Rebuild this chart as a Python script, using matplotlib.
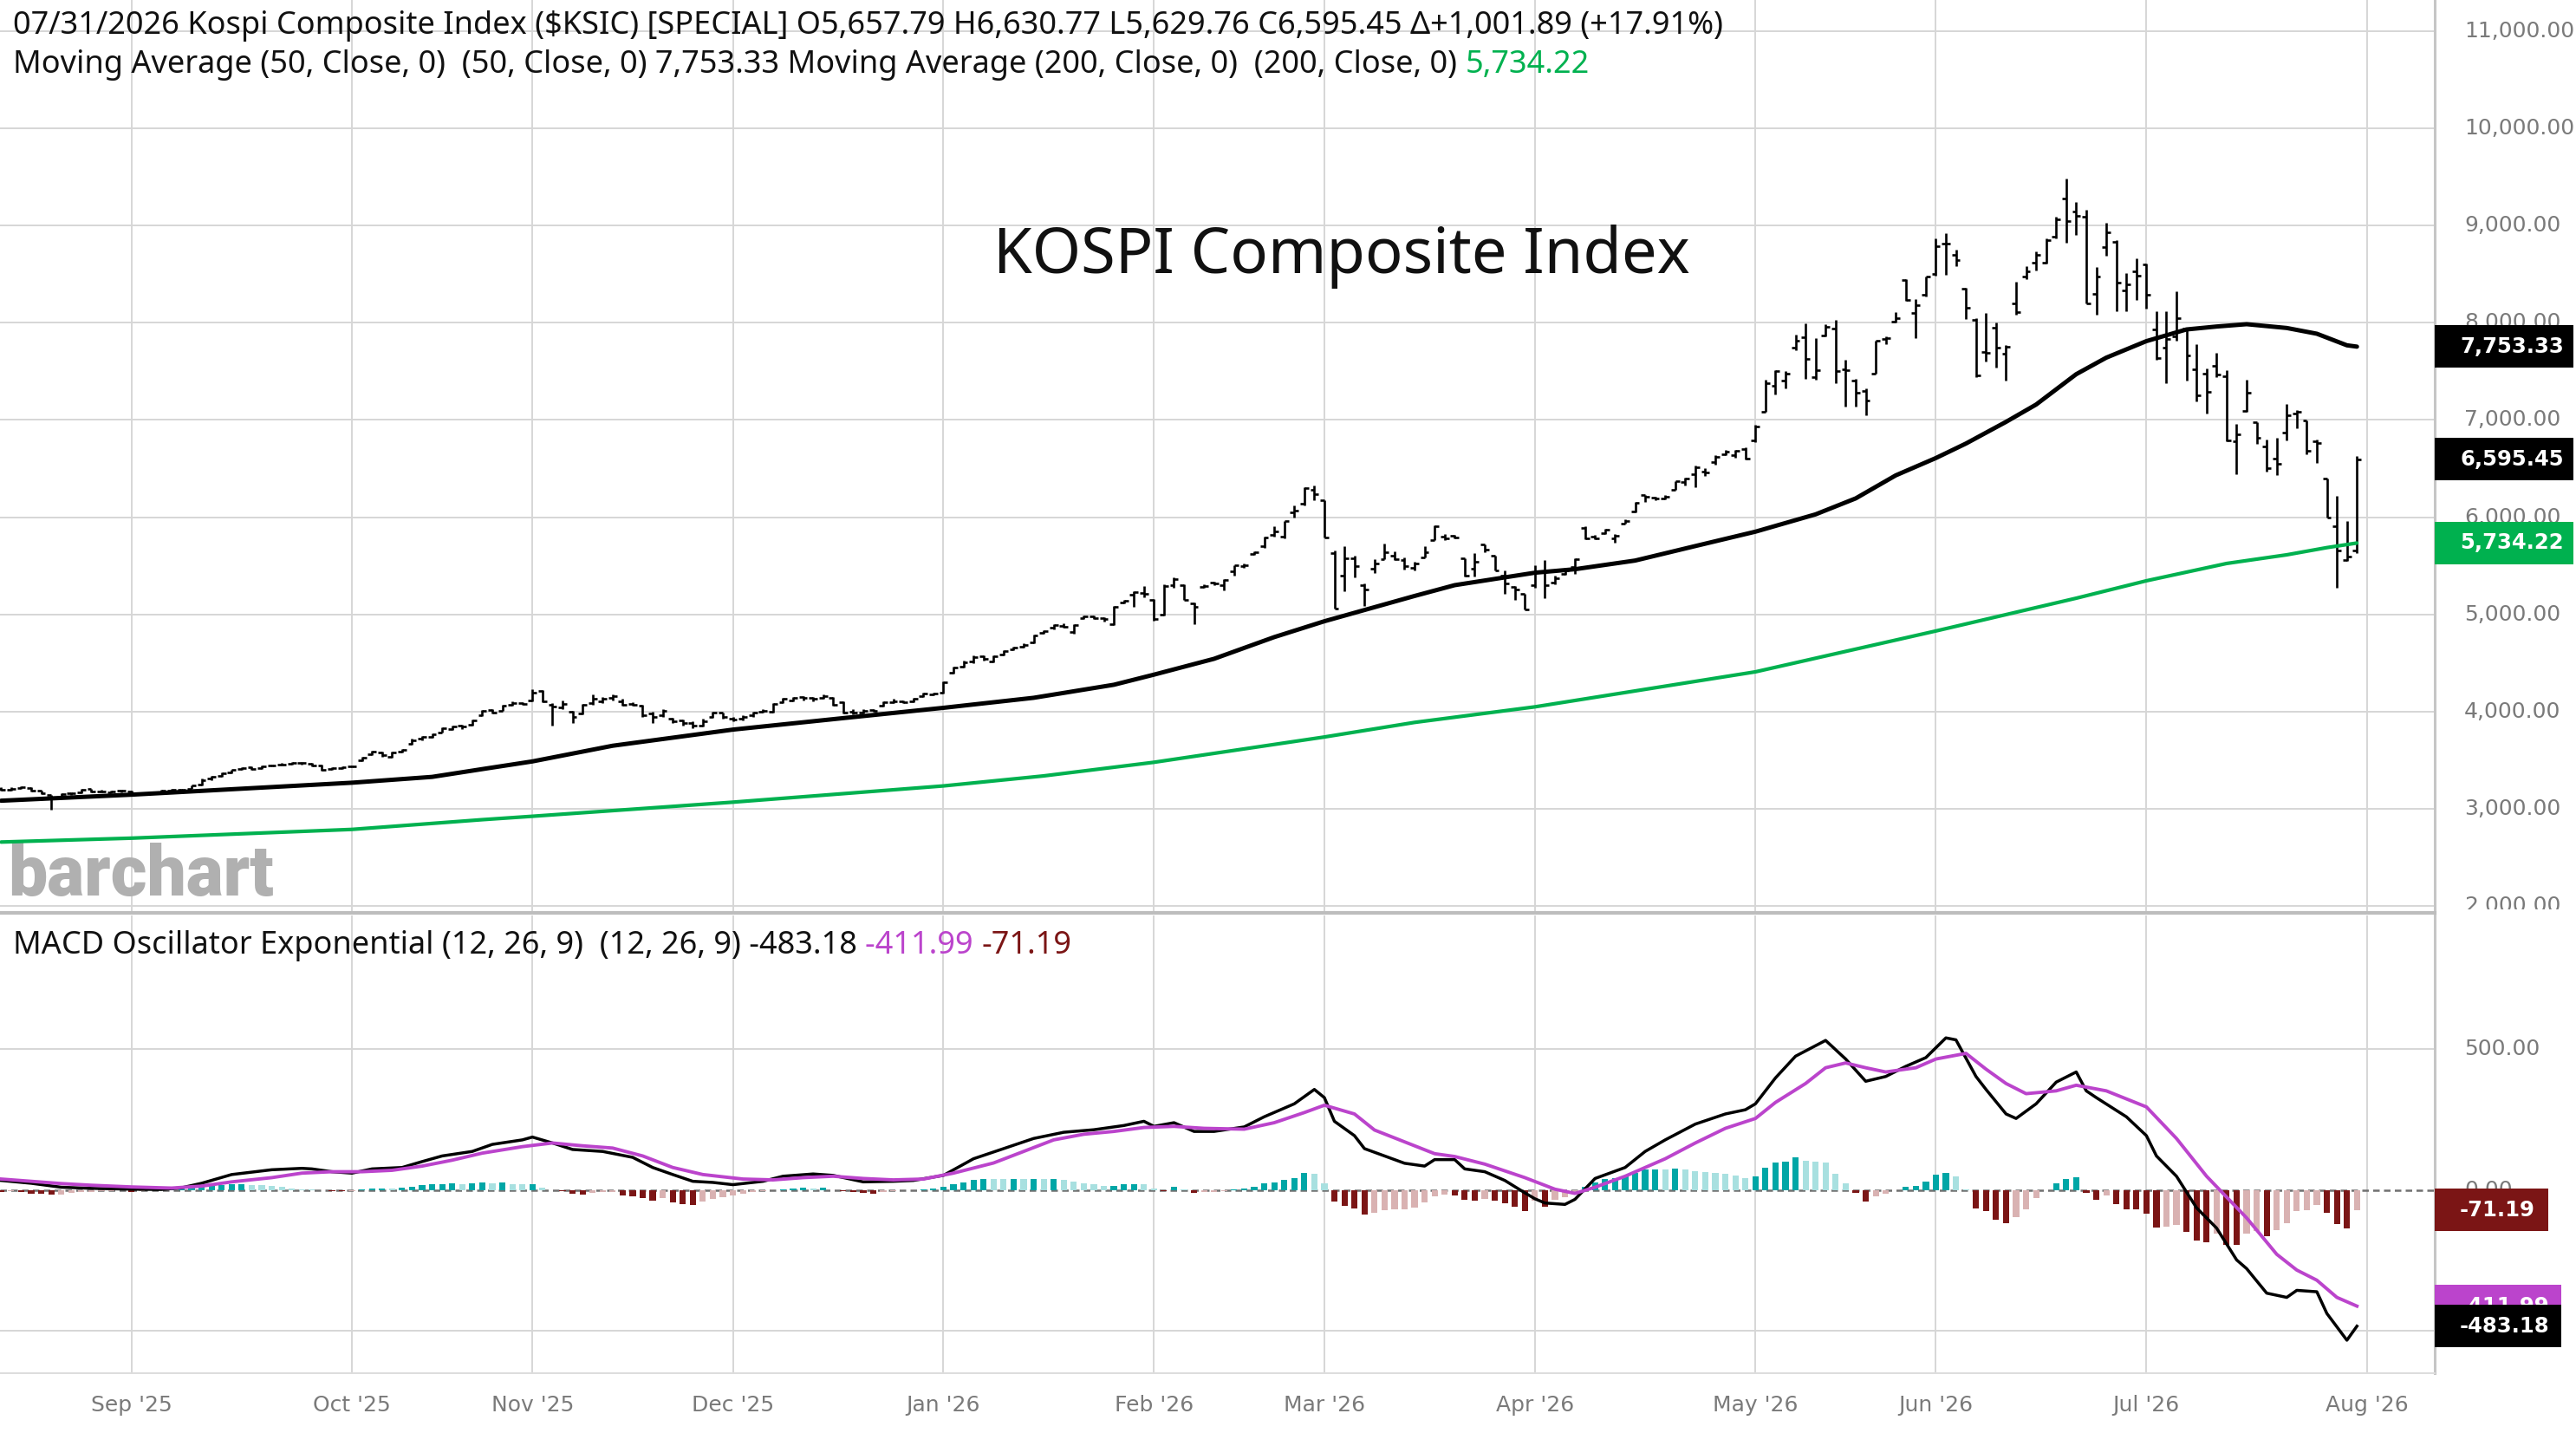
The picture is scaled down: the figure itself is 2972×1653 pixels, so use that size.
import numpy as np
import matplotlib
matplotlib.use("Agg")
import matplotlib.pyplot as plt
import matplotlib.transforms as mtransforms
from matplotlib.patches import Rectangle

# ---------------- data ----------------
opens = [
    3210, 3195, 3215, 3215, 3185, 3140, 3120, 3160, 3170, 3205,
    3180, 3175, 3185, 3180, 3165, 3160, 3175, 3190, 3195, 3210,
    3250, 3310, 3340, 3380, 3410, 3425, 3420, 3445, 3455, 3465,
    3475, 3465, 3450, 3410, 3420, 3435, 3500, 3560, 3580, 3540,
    3590, 3670, 3720, 3740, 3790, 3820, 3860, 3870, 3960, 4020,
    4010, 4070, 4090, 4120, 4210, 4070, 4040, 4000, 3980, 4090,
    4110, 4140, 4110, 4080, 4060, 3980, 3960, 3930, 3910, 3880,
    3860, 3950, 3990, 3930, 3930, 3960, 4000, 4000, 4100, 4120,
    4150, 4140, 4140, 4140, 4100, 4000, 3990, 4020, 4060, 4100,
    4110, 4110, 4160, 4180, 4200, 4400, 4460, 4520, 4570, 4520,
    4590, 4640, 4670, 4710, 4810, 4860, 4880, 4820, 4960, 4980,
    4960, 4900, 5120, 5200, 5220, 5150, 5000, 5300, 5300, 5110,
    5280, 5330, 5300, 5440, 5500, 5620, 5700, 5820, 5800, 6050,
    6140, 6280, 6170, 5630, 5400, 5580, 5300, 5470, 5570, 5600,
    5560, 5480, 5590, 5760, 5800, 5810, 5580, 5470, 5720, 5600,
    5400, 5280, 5210, 5300, 5440, 5330, 5420, 5490, 5890, 5800,
    5840, 5780, 5930, 6060, 6230, 6200, 6190, 6280, 6360, 6440,
    6470, 6570, 6650, 6640, 6700, 6790, 7080, 7350, 7400, 7740,
    7850, 7440, 7870, 7940, 7520, 7400, 7300, 7480, 7830, 8010,
    8440, 8100, 8290, 8500, 8810, 8700, 8350, 8030, 7700, 7950,
    7680, 8200, 8470, 8620, 8620, 8880, 9280, 9140, 9090, 8300,
    8780, 8830, 8330, 8530, 8600, 7930, 7740, 7860, 7940, 7520,
    7480, 7560, 7450, 6780, 7090, 6980, 6730, 6600, 6870, 7070,
    6990, 6780, 6400, 5910, 5560, 5657.79,
]
highs = [
    3225, 3220, 3230, 3220, 3190, 3145, 3160, 3175, 3210, 3210,
    3195, 3190, 3200, 3185, 3175, 3180, 3195, 3205, 3210, 3245,
    3310, 3340, 3375, 3405, 3430, 3435, 3445, 3460, 3470, 3480,
    3485, 3470, 3455, 3430, 3440, 3450, 3540, 3600, 3590, 3590,
    3620, 3720, 3750, 3780, 3840, 3860, 3870, 3920, 4020, 4030,
    4070, 4110, 4100, 4230, 4220, 4090, 4120, 4010, 4080, 4180,
    4150, 4180, 4130, 4100, 4070, 4000, 4030, 3940, 3920, 3900,
    3930, 4000, 3995, 3950, 3960, 4000, 4030, 4090, 4140, 4150,
    4160, 4150, 4180, 4150, 4110, 4030, 4030, 4030, 4110, 4130,
    4120, 4140, 4200, 4200, 4310, 4460, 4530, 4580, 4580, 4580,
    4630, 4670, 4700, 4790, 4840, 4900, 4910, 4900, 4990, 4990,
    4970, 5090, 5150, 5240, 5290, 5160, 5310, 5380, 5310, 5120,
    5310, 5340, 5360, 5510, 5520, 5650, 5800, 5910, 5960, 6120,
    6310, 6330, 6170, 5660, 5700, 5600, 5320, 5570, 5730, 5650,
    5590, 5540, 5700, 5920, 5830, 5820, 5580, 5630, 5720, 5600,
    5450, 5290, 5210, 5510, 5560, 5400, 5480, 5580, 5910, 5820,
    5880, 5830, 5980, 6160, 6230, 6210, 6230, 6370, 6410, 6530,
    6500, 6640, 6690, 6690, 6720, 6950, 7410, 7510, 7500, 7880,
    7990, 7840, 7980, 8030, 7620, 7420, 7320, 7810, 7860, 8110,
    8450, 8240, 8470, 8870, 8920, 8750, 8360, 8050, 8100, 8000,
    7770, 8420, 8580, 8730, 8870, 9090, 9480, 9240, 9160, 8570,
    9030, 8850, 8510, 8660, 8610, 8120, 8120, 8320, 7950, 7780,
    7530, 7690, 7510, 6960, 7410, 6980, 6800, 6820, 7160, 7100,
    6990, 6800, 6400, 6220, 5960, 6630.77,
]
lows = [
    3190, 3190, 3205, 3180, 3150, 2990, 3110, 3145, 3165, 3175,
    3170, 3165, 3175, 3150, 3150, 3155, 3170, 3185, 3190, 3205,
    3245, 3300, 3335, 3370, 3400, 3400, 3415, 3435, 3445, 3455,
    3460, 3440, 3390, 3405, 3415, 3425, 3495, 3555, 3540, 3530,
    3580, 3660, 3710, 3730, 3785, 3810, 3820, 3860, 3955, 3980,
    4005, 4060, 4070, 4110, 4100, 3860, 4030, 3880, 3970, 4070,
    4090, 4120, 4060, 4060, 3950, 3880, 3950, 3880, 3860, 3830,
    3850, 3940, 3930, 3900, 3910, 3950, 3990, 3990, 4090, 4110,
    4120, 4110, 4130, 4060, 3980, 3970, 3980, 4000, 4050, 4090,
    4085, 4100, 4150, 4170, 4190, 4390, 4450, 4500, 4530, 4510,
    4580, 4630, 4660, 4700, 4800, 4850, 4860, 4800, 4950, 4950,
    4930, 4890, 5110, 5080, 5180, 4940, 4990, 5270, 5150, 4900,
    5270, 5300, 5250, 5400, 5480, 5610, 5680, 5800, 5780, 6000,
    6120, 6170, 5790, 5060, 5240, 5380, 5090, 5430, 5570, 5560,
    5460, 5450, 5590, 5760, 5760, 5780, 5390, 5390, 5640, 5450,
    5210, 5150, 5050, 5270, 5170, 5310, 5410, 5420, 5770, 5770,
    5830, 5740, 5930, 6050, 6160, 6170, 6180, 6280, 6330, 6310,
    6420, 6540, 6640, 6610, 6590, 6770, 7080, 7260, 7320, 7720,
    7420, 7410, 7860, 7380, 7140, 7140, 7050, 7480, 7780, 8000,
    8220, 7840, 8270, 8480, 8490, 8580, 8040, 7440, 7600, 7540,
    7400, 8080, 8450, 8540, 8610, 8870, 8820, 8900, 8200, 8080,
    8690, 8120, 8120, 8230, 8140, 7620, 7380, 7810, 7400, 7190,
    7070, 7440, 6780, 6440, 7080, 6750, 6470, 6430, 6790, 6910,
    6650, 6560, 6000, 5270, 5550, 5629.76,
]
closes = [
    3200, 3210, 3220, 3190, 3160, 3110, 3150, 3160, 3200, 3180,
    3180, 3180, 3190, 3160, 3160, 3170, 3190, 3200, 3200, 3240,
    3300, 3330, 3370, 3400, 3420, 3410, 3440, 3450, 3460, 3470,
    3470, 3450, 3400, 3420, 3430, 3440, 3530, 3590, 3550, 3580,
    3610, 3710, 3740, 3770, 3830, 3850, 3850, 3910, 4010, 3990,
    4060, 4090, 4080, 4200, 4110, 4050, 4080, 3950, 4070, 4130,
    4130, 4160, 4070, 4070, 3960, 3950, 4010, 3900, 3880, 3860,
    3900, 3990, 3950, 3920, 3950, 3990, 4010, 4080, 4130, 4140,
    4140, 4130, 4160, 4070, 3990, 3990, 4010, 4010, 4100, 4110,
    4100, 4130, 4190, 4190, 4300, 4450, 4510, 4560, 4540, 4570,
    4620, 4660, 4690, 4780, 4830, 4890, 4870, 4890, 4980, 4960,
    4950, 5080, 5140, 5230, 5210, 4950, 5290, 5360, 5150, 5080,
    5290, 5320, 5350, 5510, 5510, 5640, 5790, 5850, 5960, 6070,
    6300, 6240, 5790, 5060, 5580, 5500, 5260, 5520, 5640, 5570,
    5500, 5520, 5640, 5910, 5780, 5790, 5400, 5540, 5670, 5450,
    5320, 5260, 5050, 5440, 5300, 5370, 5450, 5570, 5780, 5780,
    5870, 5810, 5960, 6150, 6210, 6190, 6210, 6370, 6400, 6510,
    6460, 6620, 6670, 6680, 6600, 6930, 7380, 7500, 7480, 7810,
    7630, 7510, 7960, 7500, 7510, 7280, 7200, 7810, 7840, 8050,
    8230, 8180, 8470, 8790, 8810, 8640, 8150, 7460, 7690, 7740,
    7750, 8110, 8530, 8700, 8850, 9060, 9040, 9100, 8200, 8470,
    8930, 8410, 8390, 8480, 8290, 7640, 7830, 8050, 7660, 7250,
    7290, 7470, 6790, 6850, 7280, 6820, 6500, 6550, 7050, 7080,
    6680, 6760, 6000, 5660, 5593.56, 6595.45,
]

# first trading day of each month, as bar number
month_idx = [13, 35, 53, 73, 94, 115, 132, 153, 175, 193, 214, 236]
month_lbl = ["Sep '25", "Oct '25", "Nov '25", "Dec '25", "Jan '26", "Feb '26",
             "Mar '26", "Apr '26", "May '26", "Jun '26", "Jul '26", "Aug '26"]

ma50_idx = [0, 13, 35, 43, 48, 53, 61, 73, 84, 94, 103, 111, 115, 121, 127, 132,
            141, 145, 153, 157, 163, 169, 175, 181, 185, 189, 193, 196, 200, 203,
            207, 210, 214, 218, 221, 224, 228, 231, 234, 235]
ma50_val = [3085, 3147, 3270, 3330, 3410, 3489, 3650, 3816, 3934, 4040, 4143, 4277,
            4381, 4544, 4767, 4930, 5190, 5301, 5429, 5465, 5554, 5703, 5851, 6029,
            6193, 6430, 6608, 6757, 6980, 7158, 7470, 7640, 7810, 7930, 7960, 7984,
            7945, 7886, 7767, 7753.33]

ma200_idx = [0, 13, 35, 48, 53, 73, 94, 104, 115, 132, 141, 153, 175, 193, 207,
             214, 222, 228, 232, 235]
ma200_val = [2660, 2700, 2790, 2890, 2925, 3070, 3237, 3340, 3480, 3740, 3890, 4050,
             4410, 4830, 5167, 5346, 5524, 5613, 5687, 5734.22]

macd_idx = [0, 3, 6, 9, 13, 16, 18, 20, 23, 27, 30, 31, 33, 35, 37, 40, 42, 44, 47,
            49, 52, 53, 55, 57, 60, 63, 65, 67, 69, 71, 73, 76, 78, 81, 83, 86, 89,
            91, 94, 97, 100, 103, 106, 109, 112, 114, 115, 117, 119, 121, 124, 126,
            129, 131, 132, 133, 135, 136, 138, 140, 142, 143, 145, 146, 148, 150,
            152, 153, 154, 156, 157, 159, 162, 164, 166, 169, 172, 174, 175, 177,
            179, 182, 184, 186, 188, 190, 192, 194, 195, 197, 198, 200, 201, 203,
            205, 207, 208, 209, 212, 214, 215, 217, 219, 221, 223, 224, 226, 228,
            229, 231, 232, 234, 235]
macd_val = [34, 24, 10, 6, 3, 2, 8, 24, 55, 72, 77, 75, 65, 60, 75, 80, 101, 121,
            137, 162, 178, 188, 167, 144, 137, 116, 80, 55, 31, 27, 19, 31, 49, 57,
            52, 29, 31, 34, 52, 111, 147, 183, 205, 214, 229, 244, 226, 239, 208,
            208, 224, 260, 306, 357, 328, 244, 193, 147, 121, 95, 85, 108, 108, 75,
            65, 34, -10, -31, -46, -51, -33, 41, 80, 137, 178, 234, 270, 285, 306,
            398, 475, 531, 465, 386, 403, 439, 470, 540, 533, 403, 357, 270, 254,
            306, 383, 419, 352, 328, 260, 193, 121, 49, -63, -135, -248, -279, -366,
            -381, -356, -361, -438, -533, -483.18]

sig_idx = [0, 3, 6, 9, 13, 17, 20, 23, 27, 30, 33, 36, 39, 42, 45, 48, 52, 55, 58,
           61, 64, 67, 70, 74, 77, 80, 83, 86, 89, 92, 95, 99, 102, 105, 108, 111,
           114, 117, 120, 124, 127, 130, 132, 135, 137, 141, 143, 145, 148, 152,
           155, 157, 159, 162, 166, 169, 172, 175, 177, 180, 182, 184, 186, 188,
           191, 193, 196, 198, 200, 202, 205, 207, 210, 214, 217, 220, 224, 227,
           229, 231, 233, 235]
sig_val = [39, 31, 23, 17, 11, 7, 14, 29, 44, 60, 65, 65, 70, 85, 106, 131, 154,
           167, 157, 149, 121, 80, 55, 39, 36, 44, 49, 41, 36, 39, 60, 96, 137, 178,
           198, 208, 222, 226, 219, 216, 239, 275, 301, 270, 213, 157, 129, 119, 92,
           44, 3, -12, 10, 49, 111, 167, 219, 254, 311, 378, 434, 451, 434, 419, 434,
           465, 485, 429, 378, 342, 352, 372, 352, 295, 183, 49, -99, -228, -284,
           -320, -381, -411.99]

hist_vals = [
    -8, -5, -8, -12, -14, -16, -16, -10, -8, -6,
    -4, -3, -2, -6, -3, -2, -1, 2, 4, 8,
    10, 14, 18, 20, 22, 18, 17, 14, 10, 6,
    3, 1, -1, -3, -4, -3, 2, 4, 6, 4,
    8, 12, 17, 20, 21, 24, 20, 24, 26, 24,
    26, 22, 20, 22, 8, -2, -4, -14, -16, -10,
    -8, -6, -18, -22, -30, -38, -30, -45, -50, -52,
    -40, -32, -26, -20, -14, -8, -4, -2, 2, 6,
    8, 6, 8, -2, -4, -6, -10, -12, -6, -4,
    -2, -1, 2, 6, 12, 20, 28, 36, 40, 39,
    38, 40, 38, 40, 38, 40, 36, 30, 24, 20,
    14, 16, 20, 22, 20, 4, -4, 10, 2, -10,
    -8, -6, -3, 2, 4, 12, 25, 28, 35, 42,
    60, 58, 25, -42, -55, -65, -88, -80, -72, -68,
    -68, -62, -45, -22, -15, -20, -35, -38, -32, -38,
    -48, -58, -75, -38, -60, -35, -25, -15, 12, 26,
    39, 41, 49, 62, 72, 73, 72, 75, 73, 67,
    65, 60, 58, 52, 42, 49, 78, 98, 101, 116,
    103, 101, 98, 57, 24, -10, -42, -22, -14, -2,
    12, 15, 30, 55, 62, 48, 3, -65, -75, -105,
    -118, -95, -68, -30, 0, 25, 38, 44, -10, -35,
    -20, -50, -68, -70, -85, -133, -130, -125, -148, -179,
    -184, -156, -195, -196, -156, -145, -164, -143, -117, -76,
    -72, -53, -82, -120, -137, -71.19,
]

# ---------------- layout ----------------
W, H, DPI = 2972, 1653, 100
X_RIGHT = 2809          # right edge of plot area (px)
MAIN_BOT = 1053
LABEL_CLIP = 1049       # price scale labels are cut off here
MACD_TOP, MACD_BOT = 1056, 1584

def fx(px):
    return px / W

def fy(py):
    return 1 - py / H

plt.rcParams['font.family'] = ['Noto Sans', 'DejaVu Sans']

fig = plt.figure(figsize=(W / DPI, H / DPI), dpi=DPI)
fig.patch.set_facecolor('white')

XLIM = (-0.11, 242.76)
PRICE_LIM = (1932, 11317)
MACD_LIM = (-650, 974.5)

ax = fig.add_axes([0, fy(MAIN_BOT), fx(X_RIGHT), 1 - fy(MAIN_BOT)])
axm = fig.add_axes([0, fy(MACD_BOT), fx(X_RIGHT), fy(MACD_TOP) - fy(MACD_BOT)])
labp = fig.add_axes([fx(X_RIGHT), fy(LABEL_CLIP), 1 - fx(X_RIGHT), 1 - fy(LABEL_CLIP)])
labm = fig.add_axes([fx(X_RIGHT), fy(MACD_BOT), 1 - fx(X_RIGHT), fy(MACD_TOP) - fy(MACD_BOT)])
per_px = (PRICE_LIM[1] - PRICE_LIM[0]) / MAIN_BOT
LABP_LIM = (PRICE_LIM[0] + (MAIN_BOT - LABEL_CLIP) * per_px, PRICE_LIM[1])

GRID = '#d6d6d6'
AXIS_GRAY = '#c6c6c6'
LABEL_GRAY = '#7a7a7a'
GREEN = '#00b14f'
PURPLE = '#bb44cc'
DARK_RED = '#7b1515'

x = np.arange(len(closes))

# ---------------- price panel ----------------
ax.vlines(x, lows, highs, color='black', lw=1.9, zorder=3)
ax.hlines(opens, x - 0.42, x, color='black', lw=1.9, zorder=3)
ax.hlines(closes, x, x + 0.42, color='black', lw=1.9, zorder=3)
ax.plot(ma200_idx, ma200_val, color=GREEN, lw=3.0, zorder=4, solid_capstyle='round')
ax.plot(ma50_idx, ma50_val, color='black', lw=3.6, zorder=4, solid_capstyle='round')

ax.set_xlim(XLIM)
ax.set_ylim(PRICE_LIM)
ax.set_yticks(range(2000, 12000, 1000))
ax.set_xticks(month_idx)
ax.grid(True, color=GRID, lw=1.4)
ax.set_axisbelow(True)
ax.tick_params(length=0, labelleft=False, labelbottom=False)
for s in ['top', 'left']:
    ax.spines[s].set_visible(False)
ax.spines['right'].set_color(AXIS_GRAY)
ax.spines['right'].set_linewidth(2.2)
ax.spines['bottom'].set_color('#bdbdbd')
ax.spines['bottom'].set_linewidth(3)

hdr_size = 26.0
t1 = ax.text(15 / X_RIGHT, 1 - 39 / MAIN_BOT,
             r"07/31/2026 Kospi Composite Index (\$KSIC) [SPECIAL] O5,657.79 H6,630.77 "
             r"L5,629.76 C6,595.45 Δ+1,001.89 (+17.91%)",
             transform=ax.transAxes, fontsize=hdr_size, va='baseline', color='#111111')
t2 = ax.text(15 / X_RIGHT, 1 - 84 / MAIN_BOT,
             "Moving Average (50, Close, 0)  (50, Close, 0) 7,753.33 "
             "Moving Average (200, Close, 0)  (200, Close, 0) ",
             transform=ax.transAxes, fontsize=hdr_size, va='baseline', color='#111111')
ax.annotate("5,734.22", xy=(1, 0), xycoords=t2, va='bottom', ha='left',
            fontsize=hdr_size, color=GREEN)

ax.text(1548 / X_RIGHT, 1 - 296 / MAIN_BOT, "KOSPI Composite Index",
        transform=ax.transAxes, fontsize=52, ha='center', va='center', color='#111111')

ax.text(9 / X_RIGHT, 1 - 1033 / MAIN_BOT, "barchart", transform=ax.transAxes,
        fontsize=58, fontweight='heavy', family=['Roboto', 'DejaVu Sans'],
        color='#b0b0b0', va='baseline', ha='left', zorder=2)

# ---------------- MACD panel ----------------
cols = []
prev = 0
for h in hist_vals:
    if h >= 0:
        cols.append('#00a6a6' if h >= prev else '#a8e0e0')
    else:
        cols.append(DARK_RED if h < prev else '#d9b2b2')
    prev = h
axm.bar(x, hist_vals, width=0.62, color=cols, zorder=3)
axm.axhline(0, color='#707070', lw=1.8, ls=(0, (3, 2)), zorder=2)
axm.plot(macd_idx, macd_val, color='black', lw=2.5, zorder=4)
axm.plot(sig_idx, sig_val, color=PURPLE, lw=2.8, zorder=5)

axm.set_xlim(XLIM)
axm.set_ylim(MACD_LIM)
axm.set_yticks([-500, 500])
axm.set_xticks(month_idx)
axm.set_xticklabels(month_lbl, family=['DejaVu Sans'], fontsize=18, color=LABEL_GRAY)
axm.grid(True, color=GRID, lw=1.4)
axm.set_axisbelow(True)
axm.tick_params(length=0, labelleft=False, pad=18)
for s in ['top', 'left']:
    axm.spines[s].set_visible(False)
axm.spines['right'].set_color(AXIS_GRAY)
axm.spines['right'].set_linewidth(2.2)
axm.spines['bottom'].set_color('#dddddd')
axm.spines['bottom'].set_linewidth(1.4)

m1 = axm.text(15 / X_RIGHT, 1 - (1100 - MACD_TOP) / (MACD_BOT - MACD_TOP),
              "MACD Oscillator Exponential (12, 26, 9)  (12, 26, 9) -483.18 ",
              transform=axm.transAxes, fontsize=hdr_size, va='baseline', color='#111111')
m2 = axm.annotate("-411.99 ", xy=(1, 0), xycoords=m1, va='bottom', ha='left',
                  fontsize=hdr_size, color=PURPLE)
axm.annotate("-71.19", xy=(1, 0), xycoords=m2, va='bottom', ha='left',
             fontsize=hdr_size, color=DARK_RED)

# ---------------- right-hand scales ----------------
for lab, lim, ticks in [(labp, LABP_LIM, range(2000, 12000, 1000)),
                        (labm, MACD_LIM, [-500, 0, 500])]:
    lab.set_xlim(0, 1)
    lab.set_ylim(lim)
    lab.axis('off')
    for v in ticks:
        lab.text(34 / (W - X_RIGHT), v, f"{v:,.2f}", transform=lab.get_yaxis_transform(),
                 family=['DejaVu Sans'], fontsize=18, color=LABEL_GRAY,
                 va='center', ha='left', clip_on=True)

box_z = [5]


def value_box(lab, val, text, color):
    # label box stuck to the axis edge, in pixels around the value
    trans = fig.dpi_scale_trans + mtransforms.ScaledTranslation(
        0, val, lab.get_yaxis_transform())
    w_in = (42 + 14.8 * len(text)) / DPI
    z = box_z[0]
    fig.add_artist(Rectangle((0, -0.245), w_in, 0.49, transform=trans,
                             facecolor=color, edgecolor='none', zorder=z))
    fig.text(0.29, 0, text, transform=trans, family=['DejaVu Sans'], fontsize=17.5,
             fontweight='bold', color='white', va='center', ha='left', zorder=z + 1)
    box_z[0] += 2


value_box(labp, 7753.33, "7,753.33", 'black')
value_box(labp, 6595.45, "6,595.45", 'black')
value_box(labp, 5734.22, "5,734.22", GREEN)
value_box(labm, -71.19, "-71.19", DARK_RED)
value_box(labm, -411.99, "-411.99", PURPLE)
value_box(labm, -483.18, "-483.18", 'black')

fig.savefig("out.png", dpi=DPI, facecolor='white')
